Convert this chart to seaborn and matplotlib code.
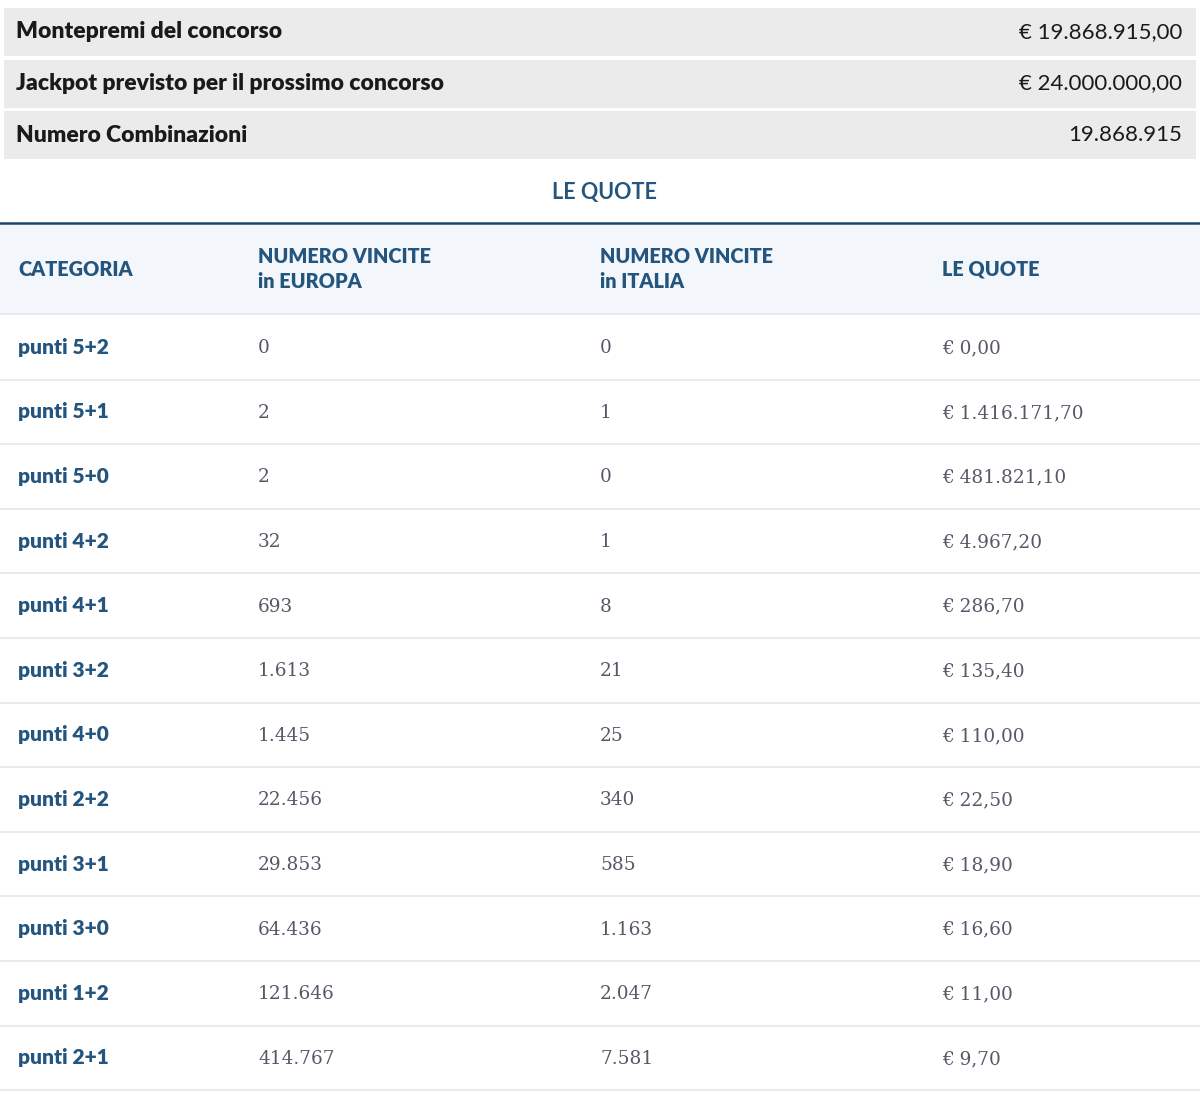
import matplotlib
matplotlib.use("Agg")
import matplotlib.pyplot as plt
import seaborn as sns

sns.set_style("white")

summary_labels = ["Montepremi del concorso", "Jackpot previsto per il prossimo concorso", "Numero Combinazioni"]
summary_values = ["€ 19.868.915,00", "€ 24.000.000,00", "19.868.915"]

headers = ["CATEGORIA", "NUMERO VINCITE\nin EUROPA", "NUMERO VINCITE\nin ITALIA", "LE QUOTE"]
categorie = ["punti 5+2", "punti 5+1", "punti 5+0", "punti 4+2", "punti 4+1", "punti 3+2",
             "punti 4+0", "punti 2+2", "punti 3+1", "punti 3+0", "punti 1+2", "punti 2+1"]
vincite_europa = ["0", "2", "2", "32", "693", "1.613", "1.445", "22.456", "29.853", "64.436", "121.646", "414.767"]
vincite_italia = ["0", "1", "0", "1", "8", "21", "25", "340", "585", "1.163", "2.047", "7.581"]
quote = ["€ 0,00", "€ 1.416.171,70", "€ 481.821,10", "€ 4.967,20", "€ 286,70", "€ 135,40",
         "€ 110,00", "€ 22,50", "€ 18,90", "€ 16,60", "€ 11,00", "€ 9,70"]

W, H = 1200, 1097
fig = plt.figure(figsize=(12, 10.97), dpi=100)
ax = fig.add_axes([0, 0, 1, 1])
ax.set_xlim(0, W)
ax.set_ylim(H, 0)
ax.axis("off")

sans = "Lato"
serif = "DejaVu Serif"
dark = "#1a1a1a"
blue = "#24557f"
grey_txt = "#5a5668"

# summary rows
for i, (lab, val) in enumerate(zip(summary_labels, summary_values)):
    top = 8 + i * 51.5
    ax.add_patch(plt.Rectangle((4, top), 1192, 48, color="#ebebeb", lw=0))
    yc = top + 24
    ax.text(16, yc, lab, fontsize=16.5, fontweight="heavy", color=dark, family=sans, va="center")
    ax.text(1182, yc, val, fontsize=16, color=dark, family=sans, va="center", ha="right")

ax.text(604, 192, "LE QUOTE", fontsize=15.5, fontweight="bold", color=blue, family=sans,
        va="center", ha="center")
ax.plot([0, W], [223, 223], color="#1f4568", lw=1.8)

# header band
ax.add_patch(plt.Rectangle((0, 224), W, 90, color="#f3f7fb", lw=0))
ax.plot([0, W], [314, 314], color="#dfe7ef", lw=1.2)
col_x = [18, 258, 600, 942]
for x, h in zip(col_x, headers):
    ax.text(x, 269, h, fontsize=14.3, fontweight="heavy", color=blue, family=sans,
            va="center", linespacing=1.35)

# data rows
row_h = 64.6
for i, (c, e, it, q) in enumerate(zip(categorie, vincite_europa, vincite_italia, quote)):
    top = 315 + i * row_h
    yc = top + row_h / 2
    ax.text(col_x[0], yc, c, fontsize=15, fontweight="heavy", color=blue, family=sans, va="center")
    for x, v in zip(col_x[1:], [e, it, q]):
        ax.text(x, yc + 1, v, fontsize=13.3, color=grey_txt, family=serif, va="center")
    ax.plot([0, W], [top + row_h, top + row_h], color="#dfe7ef", lw=1.2)

fig.savefig("out.png", dpi=100)
